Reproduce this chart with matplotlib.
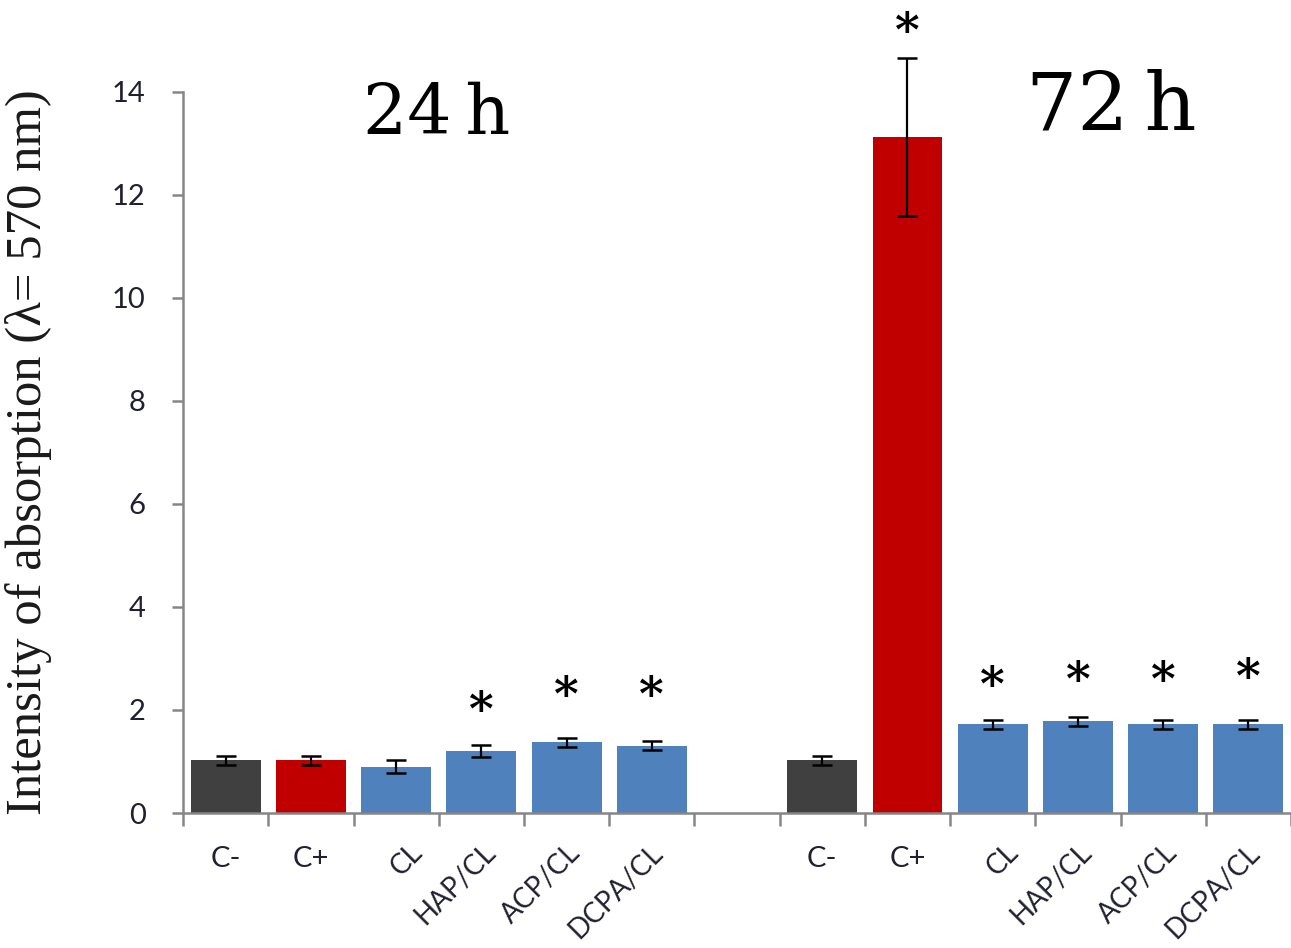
import numpy as np
import matplotlib.pyplot as plt
from matplotlib.transforms import ScaledTranslation

# categorias (24 h, hueco, 72 h)
etiquetas = ['C-', 'C+', 'CL', 'HAP/CL', 'ACP/CL', 'DCPA/CL', '',
             'C-', 'C+', 'CL', 'HAP/CL', 'ACP/CL', 'DCPA/CL']
valores = [1.02, 1.02, 0.90, 1.20, 1.37, 1.31, np.nan,
           1.02, 13.12, 1.72, 1.78, 1.72, 1.72]
errores = [0.08, 0.08, 0.12, 0.12, 0.09, 0.09, np.nan,
           0.09, 1.53, 0.09, 0.09, 0.09, 0.09]
colores = ['#404040', '#C00000', '#4F81BD', '#4F81BD', '#4F81BD', '#4F81BD', 'white',
           '#404040', '#C00000', '#4F81BD', '#4F81BD', '#4F81BD', '#4F81BD']
# posicion de los asteriscos (significancia)
estrellas_x = [3, 4, 5, 8, 9, 10, 11, 12]
estrellas_y = [2.10, 2.39, 2.39, 15.29, 2.59, 2.68, 2.68, 2.74]

fig = plt.figure(figsize=(12.91, 9.48), dpi=100)
ax = fig.add_axes([0.1418, 0.1424, 0.8582, 0.7606])

x = np.arange(len(etiquetas))
ax.bar(x, valores, width=0.82, color=colores, zorder=2)
barras_err = ax.errorbar(x, valores, yerr=errores, fmt='none', ecolor='black',
                         elinewidth=1.6, capsize=7.5, capthick=1.8, zorder=3)
for parte in barras_err.lines:
    for linea in (parte if isinstance(parte, tuple) else [parte]):
        if linea is not None:
            linea.set_clip_on(False)

baja = ScaledTranslation(0, -0.07, fig.dpi_scale_trans)
for ex, ey in zip(estrellas_x, estrellas_y):
    ax.text(ex, ey, '*', ha='center', va='center', fontsize=34,
            fontweight='bold', family='DejaVu Serif', clip_on=False,
            transform=ax.transData + baja)

ax.text(0.229, 0.968, '24\u2009h', transform=ax.transAxes, ha='center', va='center',
        fontsize=50, family='DejaVu Serif')
ax.text(0.8375, 0.979, '72\u2009h', transform=ax.transAxes, ha='center', va='center',
        fontsize=58, family='DejaVu Serif', clip_on=False)

ax.set_xlim(-0.5, 12.5)
ax.set_ylim(0, 14)
ax.set_yticks(np.arange(0, 15, 2))

gris = '#868686'
for lado in ['top', 'right']:
    ax.spines[lado].set_visible(False)
for lado in ['left', 'bottom']:
    ax.spines[lado].set_color(gris)
    ax.spines[lado].set_linewidth(1.8)

ax.tick_params(axis='y', direction='out', length=8, width=1.8, color=gris,
               pad=19, labelsize=21, labelcolor='#202030')
for t in ax.get_yticklabels():
    t.set_family('Lato')

ax.set_xticks(x)
ax.set_xticks(np.arange(-0.5, 13, 1), minor=True)
ax.set_xticklabels(etiquetas, family='Lato', fontsize=21, color='#202030')
ax.tick_params(axis='x', which='major', length=0, pad=24)
ax.tick_params(axis='x', which='minor', direction='out', length=9, width=1.8, color=gris)

for t in ax.get_xticklabels():
    n = len(t.get_text())
    if n and t.get_text() not in ('C-', 'C+'):
        t.set_rotation(45)
        t.set_ha('right')
        t.set_va('center')
        t.set_rotation_mode('anchor')
        t.set_fontsize(20)
        desplaza = ScaledTranslation(0.28 - 0.03 * n, -0.02, fig.dpi_scale_trans)
        t.set_transform(t.get_transform() + desplaza)

ax.set_ylabel('Intensity of absorption (\u03bb= 570 nm)', family='Liberation Serif',
              fontsize=36.5, color='#1a1a1a')
ax.yaxis.set_label_coords(-0.118, 0.5)

fig.savefig('out.png', dpi=100)
